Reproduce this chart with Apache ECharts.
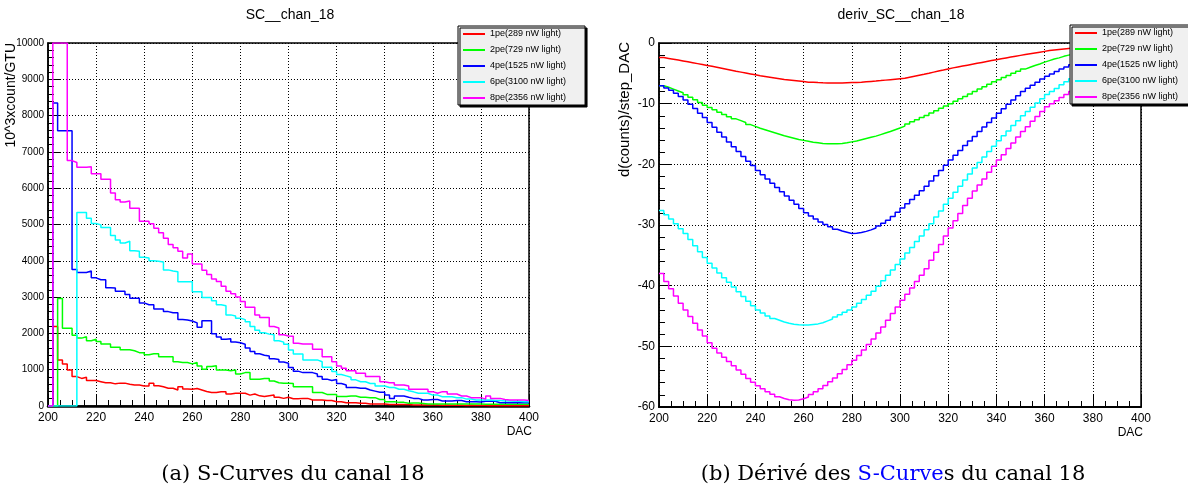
<!DOCTYPE html>
<html>
<head>
<meta charset="utf-8">
<script src="https://cdn.jsdelivr.net/npm/echarts@6/dist/echarts.min.js"></script>
<style>
html,body{margin:0;padding:0;background:#fff;}
#chart{width:1188px;height:492px;}
</style>
</head>
<body>
<div id="chart"></div>
<script>
// ---- binning (DAC) ----
const dacStart = 200;
const dacStep = 2;

// ---- series names & colours ----
const seriesNames = ['1pe(289 nW light)', '2pe(729 nW light)', '4pe(1525 nW light)', '6pe(3100 nW light)', '8pe(2356 nW light)'];
const seriesColors = ['#ff0000', '#00ff00', '#0000ff', '#00ffff', '#ff00ff'];

// ---- (a) S-curves, 10^3 counts/GTU, one value per 2-DAC bin from 200 to 398 ----
const sc1pe = [0,2190,1270,1160,990,810,760,790,700,700,
  670,640,640,610,630,630,600,580,580,550,
  550,630,560,530,490,490,440,530,470,460,
  480,440,400,370,370,390,390,330,350,350,
  350,300,330,280,260,280,300,240,210,240,
  200,200,210,210,165,165,165,150,150,120,
  120,90,90,90,75,75,55,55,55,55,
  40,40,40,40,40,30,30,25,25,25,
  25,20,25,20,20,20,15,20,15,15,
  15,10,15,10,10,10,10,8,8,8];
const sc2pe = [0,0,2960,2140,2140,1950,1870,1910,1800,1840,
  1780,1710,1710,1620,1620,1550,1550,1520,1470,1470,
  1410,1440,1440,1360,1360,1360,1220,1200,1200,1160,
  1200,1100,1010,1090,1110,990,990,970,990,880,
  920,920,740,740,760,760,690,640,630,630,
  620,530,530,530,530,370,370,320,320,320,
  260,260,275,275,240,240,230,230,180,180,
  120,120,100,100,75,80,80,70,55,55,
  55,55,55,55,55,55,55,55,55,55,
  45,45,45,45,45,45,45,45,45,45];
const sc4pe = [0,8350,7580,7580,7580,3760,3680,3680,3720,3530,
  3480,3480,3260,3250,3160,3160,3070,2970,2970,2840,
  2790,2790,2670,2670,2600,2570,2570,2380,2370,2340,
  2290,2170,2350,2350,1990,1900,1840,1850,1760,1740,
  1700,1600,1500,1440,1400,1380,1300,1280,1210,1180,
  1060,960,920,920,920,880,810,740,700,730,
  620,580,510,510,490,490,440,410,380,380,
  300,210,275,275,240,210,210,165,165,180,
  180,140,140,140,150,150,120,120,120,110,
  130,130,130,90,90,90,90,90,90,90];
const sc6pe = [0,0,0,0,0,0,5330,5330,5170,5030,
  4990,4920,4920,4700,4570,4490,4540,4280,4260,4100,
  4080,4000,3990,3970,3750,3720,3700,3420,3420,3420,
  3150,3150,2990,2990,2900,2790,2760,2510,2480,2420,
  2380,2320,2190,2090,2020,1980,1960,1800,1760,1700,
  1540,1430,1430,1270,1270,1270,1220,1070,1070,950,
  870,830,790,720,670,670,620,620,550,550,
  510,510,460,460,420,390,350,350,350,300,
  300,255,255,255,230,230,190,190,165,165,
  165,165,150,150,140,140,130,130,120,120];
const sc8pe = [0,10000,10000,10000,6760,6710,6580,6580,6590,6400,
  6400,6250,6250,5870,5680,5620,5650,5450,5450,5090,
  5090,5020,4900,4770,4620,4450,4360,4260,4080,4190,
  3910,3910,3740,3620,3500,3430,3300,3160,3090,3000,
  2880,2720,2720,2510,2440,2440,2190,2150,1960,1930,
  1920,1730,1710,1710,1710,1560,1560,1360,1360,1220,
  1100,1040,970,970,900,900,810,810,810,670,
  640,640,580,580,550,460,460,460,460,395,
  350,395,395,330,330,275,275,230,230,230,
  190,275,210,210,180,165,165,165,165,150];

// ---- (b) derivative d(counts)/step_DAC, one value per 2-DAC bin ----
const d1pe = [-2.40,-2.54,-2.68,-2.82,-2.96,-3.10,-3.25,-3.40,-3.55,-3.70,
  -3.85,-4.01,-4.17,-4.33,-4.49,-4.65,-4.80,-4.95,-5.10,-5.25,
  -5.40,-5.52,-5.64,-5.76,-5.88,-6.00,-6.09,-6.18,-6.27,-6.36,
  -6.45,-6.49,-6.53,-6.56,-6.58,-6.60,-6.60,-6.58,-6.55,-6.52,
  -6.50,-6.45,-6.39,-6.33,-6.27,-6.20,-6.12,-6.04,-5.96,-5.88,
  -5.80,-5.63,-5.47,-5.31,-5.15,-4.98,-4.80,-4.62,-4.45,-4.27,
  -4.10,-3.95,-3.80,-3.65,-3.50,-3.35,-3.20,-3.05,-2.90,-2.75,
  -2.60,-2.46,-2.32,-2.18,-2.04,-1.90,-1.77,-1.64,-1.51,-1.38,
  -1.25,-1.16,-1.07,-0.98,-0.89,-0.80,-0.74,-0.68,-0.62,-0.56,
  -0.50,-0.46,-0.42,-0.38,-0.34,-0.30,-0.28,-0.26,-0.24,-0.22];
const d2pe = [-7.05,-7.3,-7.6,-7.9,-8.2,-8.55,-8.95,-9.35,-9.8,-10.25,
  -10.65,-11.0,-11.4,-11.8,-12.15,-12.5,-12.8,-13.1,-13.45,-13.75,
  -14.05,-14.3,-14.55,-14.8,-15.05,-15.3,-15.5,-15.7,-15.9,-16.05,
  -16.2,-16.35,-16.45,-16.55,-16.6,-16.6,-16.6,-16.55,-16.45,-16.3,
  -16.15,-15.95,-15.75,-15.55,-15.35,-15.1,-14.85,-14.6,-14.3,-14.0,
  -13.7,-13.35,-13.0,-12.65,-12.3,-11.95,-11.55,-11.15,-10.75,-10.4,
  -10.0,-9.6,-9.2,-8.8,-8.4,-8.0,-7.6,-7.2,-6.8,-6.4,
  -6.05,-5.7,-5.35,-5.0,-4.65,-4.3,-4.0,-3.7,-3.45,-3.15,
  -2.9,-2.65,-2.45,-2.2,-2.0,-1.8,-1.65,-1.5,-1.35,-1.2,
  -1.1,-1.0,-0.9,-0.85,-0.75,-0.7,-0.62,-0.55,-0.5,-0.45];
const d4pe = [-7.05,-7.4,-7.8,-8.3,-8.8,-9.4,-10.1,-10.8,-11.6,-12.3,
  -13.1,-13.9,-14.7,-15.5,-16.3,-17.1,-17.9,-18.7,-19.5,-20.2,
  -21.0,-21.7,-22.4,-23.1,-23.8,-24.5,-25.2,-25.9,-26.6,-27.3,
  -28.0,-28.5,-29.0,-29.5,-29.9,-30.3,-30.7,-31.0,-31.2,-31.4,
  -31.35,-31.25,-31.05,-30.8,-30.5,-30.15,-29.7,-29.2,-28.6,-27.9,
  -27.2,-26.5,-25.8,-25.1,-24.35,-23.6,-22.75,-21.9,-21.0,-20.15,
  -19.3,-18.5,-17.7,-16.9,-16.15,-15.4,-14.6,-13.85,-13.1,-12.35,
  -11.6,-10.85,-10.1,-9.4,-8.7,-8.0,-7.45,-6.95,-6.45,-5.95,
  -5.5,-5.1,-4.7,-4.3,-3.95,-3.6,-3.35,-3.1,-2.85,-2.6,
  -2.4,-2.25,-2.1,-1.95,-1.8,-1.65,-1.5,-1.4,-1.3,-1.2];
const d6pe = [-27.6,-28.3,-29.0,-29.8,-30.6,-31.4,-32.4,-33.4,-34.4,-35.35,
  -36.3,-37.1,-37.9,-38.7,-39.45,-40.2,-41.0,-41.8,-42.55,-43.3,
  -44.0,-44.5,-45.0,-45.4,-45.7,-46.0,-46.2,-46.35,-46.45,-46.5,
  -46.5,-46.4,-46.3,-46.1,-45.8,-45.5,-45.15,-44.8,-44.4,-44.0,
  -43.5,-42.9,-42.3,-41.6,-40.9,-40.1,-39.2,-38.3,-37.4,-36.5,
  -35.6,-34.6,-33.7,-32.7,-31.8,-30.8,-29.8,-28.7,-27.7,-26.6,
  -25.6,-24.6,-23.6,-22.6,-21.6,-20.6,-19.7,-18.8,-17.9,-17.0,
  -16.1,-15.3,-14.5,-13.6,-12.8,-12.0,-11.3,-10.6,-9.9,-9.2,
  -8.5,-8.0,-7.5,-6.9,-6.4,-5.9,-5.5,-5.1,-4.7,-4.3,
  -4.0,-3.75,-3.5,-3.25,-3.0,-2.8,-2.65,-2.5,-2.35,-2.2];
const d8pe = [-38.0,-39.3,-40.5,-41.7,-42.9,-44.0,-45.1,-46.2,-47.3,-48.3,
  -49.4,-50.3,-51.1,-51.8,-52.5,-53.2,-53.9,-54.6,-55.3,-55.9,
  -56.5,-57.0,-57.5,-57.9,-58.3,-58.6,-58.8,-58.9,-58.85,-58.65,
  -58.35,-57.95,-57.5,-57.0,-56.45,-55.85,-55.2,-54.5,-53.8,-53.05,
  -52.3,-51.5,-50.6,-49.7,-48.8,-47.8,-46.8,-45.7,-44.6,-43.5,
  -42.4,-41.4,-40.4,-39.3,-38.3,-37.2,-35.8,-34.5,-33.2,-31.8,
  -30.5,-29.3,-28.1,-26.8,-25.6,-24.4,-23.4,-22.4,-21.3,-20.3,
  -19.3,-18.4,-17.4,-16.5,-15.5,-14.6,-13.8,-12.9,-12.1,-11.3,
  -10.5,-10.0,-9.5,-9.0,-8.5,-8.0,-7.5,-7.0,-6.6,-6.1,
  -5.7,-5.35,-5.0,-4.65,-4.3,-4.0,-3.75,-3.5,-3.25,-3.0];

const scSeries = [sc1pe, sc2pe, sc4pe, sc6pe, sc8pe];
const dSeries = [d1pe, d2pe, d4pe, d6pe, d8pe];

// ---- text ----
const titleA = 'SC__chan_18';
const titleB = 'deriv_SC__chan_18';
const yNameA = '10^3xcount/GTU';
const yNameB = 'd(counts)/step_DAC';
const xName = 'DAC';
const captionA = '(a) S-Curves du canal 18';

// histogram outline: points at bin low edges + closing point at last high edge
function histPoints(vals) {
  const pts = vals.map((v, i) => [dacStart + i * dacStep, v]);
  pts.push([dacStart + vals.length * dacStep, vals[vals.length - 1]]);
  return pts;
}

const SANS = '"Liberation Sans", Arial, sans-serif';
const SERIF = '"DejaVu Serif", serif';

function xAxisCfg(gi, lw) {
  return {
    type: 'value', gridIndex: gi, min: 200, max: 400, interval: 20,
    axisLine: { show: true, onZero: false, lineStyle: { color: '#000', width: lw } },
    axisTick: { show: true, inside: true, length: 12, lineStyle: { color: '#000', width: 1 } },
    minorTick: { show: true, splitNumber: 4, length: 6, lineStyle: { color: '#000', width: 1 } },
    axisLabel: { color: '#000', fontFamily: SANS, fontSize: 12, margin: 6 },
    splitLine: { show: true, lineStyle: { color: '#000', type: [1, 2], width: 1 } }
  };
}
function yAxisCfg(gi, min, max, interval, fs) {
  return {
    type: 'value', gridIndex: gi, min: min, max: max, interval: interval,
    axisLine: { show: true, onZero: false, lineStyle: { color: '#000', width: 1.5 } },
    axisTick: { show: true, inside: true, length: 12, lineStyle: { color: '#000', width: 1 } },
    minorTick: { show: true, splitNumber: 5, length: 6, lineStyle: { color: '#000', width: 1 } },
    axisLabel: { color: '#000', fontFamily: SANS, fontSize: fs, margin: 4, formatter: v => String(v) },
    splitLine: { show: true, lineStyle: { color: '#000', type: [1, 2], width: 1 } }
  };
}
function legendCfg(left, top) {
  return {
    orient: 'vertical', left: left, top: top,
    data: seriesNames,
    icon: 'rect', itemWidth: 22, itemHeight: 2, itemGap: 4,
    padding: [2, 19, 1, 5],
    backgroundColor: '#f0f0f0', borderColor: '#000', borderWidth: 1, borderRadius: 0,
    shadowColor: '#000', shadowBlur: 0, shadowOffsetX: 2, shadowOffsetY: 2,
    textStyle: { color: '#000', fontFamily: SANS, fontSize: 9, lineHeight: 12 },
    selectedMode: false
  };
}

const series = [];
scSeries.forEach((vals, k) => {
  series.push({
    name: seriesNames[k], type: 'line', xAxisIndex: 0, yAxisIndex: 0,
    data: histPoints(vals), step: 'end', symbol: 'none', clip: true,
    lineStyle: { color: seriesColors[k], width: 1.5 }, itemStyle: { color: seriesColors[k] },
    animation: false
  });
});
dSeries.forEach((vals, k) => {
  series.push({
    name: seriesNames[k], type: 'line', xAxisIndex: 1, yAxisIndex: 1,
    data: histPoints(vals), step: 'end', symbol: 'none', clip: true,
    lineStyle: { color: seriesColors[k], width: 1.5 }, itemStyle: { color: seriesColors[k] },
    animation: false
  });
});

const chart = echarts.init(document.getElementById('chart'), null, { renderer: 'canvas' });
chart.setOption({
  backgroundColor: '#fff',
  animation: false,
  grid: [
    { left: 48, top: 43, width: 481, height: 363, show: true, borderColor: '#000', borderWidth: 1.5, backgroundColor: '#fff' },
    { left: 659, top: 43, width: 482, height: 364, show: true, borderColor: '#000', borderWidth: 1.5, backgroundColor: '#fff' }
  ],
  xAxis: [xAxisCfg(0, 2.5), xAxisCfg(1, 2)],
  yAxis: [yAxisCfg(0, 0, 10000, 1000, 10), yAxisCfg(1, -60, 0, 10, 12)],
  legend: [legendCfg(458, 26), legendCfg(1070, 25)],
  series: series,
  graphic: [
    { type: 'text', x: 290, y: 15, style: { text: titleA, font: '14px ' + SANS, fill: '#000', align: 'center', verticalAlign: 'middle' } },
    { type: 'text', x: 901, y: 15, style: { text: titleB, font: '14px ' + SANS, fill: '#000', align: 'center', verticalAlign: 'middle' } },
    { type: 'text', x: 11, y: 43, rotation: Math.PI / 2, style: { text: yNameA, font: '14px ' + SANS, fill: '#000', align: 'right', verticalAlign: 'middle' } },
    { type: 'text', x: 625, y: 42, rotation: Math.PI / 2, style: { text: yNameB, font: '15px ' + SANS, fill: '#000', align: 'right', verticalAlign: 'middle' } },
    { type: 'text', x: 532, y: 432, style: { text: xName, font: '12px ' + SANS, fill: '#000', align: 'right', verticalAlign: 'middle' } },
    { type: 'text', x: 1143, y: 433, style: { text: xName, font: '12px ' + SANS, fill: '#000', align: 'right', verticalAlign: 'middle' } },
    { type: 'text', x: 293, y: 475, style: { text: captionA, font: '21px ' + SERIF, fill: '#000', align: 'center', verticalAlign: 'middle' } },
    { type: 'text', x: 893, y: 475, style: {
        text: '{n|(b) Dérivé des }{b|S-Curve}{n|s du canal 18}', align: 'center', verticalAlign: 'middle',
        rich: { n: { font: '21px ' + SERIF, fill: '#000' }, b: { font: '21px ' + SERIF, fill: '#0000ff' } } } }
  ]
});
</script>
</body>
</html>
